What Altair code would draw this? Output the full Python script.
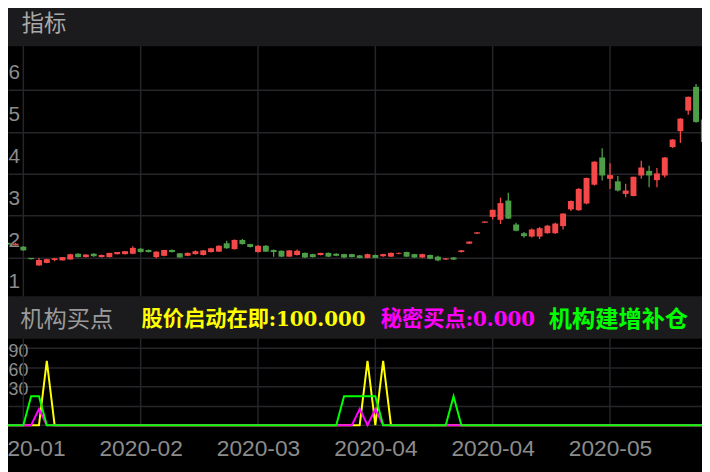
import altair as alt
import pandas as pd

# ---------------- data ----------------
tick_index = [3, 18, 33, 48, 63, 78]
tick_labels = ["2020-01", "2020-02", "2020-03", "2020-04", "2020-04", "2020-05"]
price_ticks = [1, 2, 3, 4, 5, 6]
ind_ticks = [0, 30, 60, 90, 120]

open_ = [2.33, 2.35, 2.30, 2.26, 1.99, 1.81, 1.87, 1.94, 1.93, 1.95,
         2.09, 2.01, 2.09, 2.01, 2.01, 2.08, 2.08, 2.09, 2.21, 2.18,
         2.01, 2.04, 2.18, 2.10, 2.04, 2.08, 2.06, 2.13, 2.14, 2.34,
         2.20, 2.42, 2.32, 2.13, 2.28, 2.18, 2.16, 2.02, 2.06, 2.11,
         2.08, 2.06, 2.11, 2.09, 2.08, 2.08, 2.05, 1.99, 2.06, 2.03,
         2.02, 2.09, 2.13, 2.08, 2.00, 2.06, 2.02, 1.95, 2.00, 2.13,
         2.33, 2.57, 2.83, 2.97, 2.90, 3.36, 2.79, 2.58, 2.50, 2.50,
         2.58, 2.58, 2.75, 3.15, 3.13, 3.29, 3.74, 4.39, 3.88, 3.82,
         3.52, 3.47, 3.96, 4.07, 3.85, 3.96, 4.64, 5.02, 5.51, 6.08,
         5.30]
close = [2.36, 2.31, 2.33, 2.17, 1.96, 1.94, 1.96, 1.98, 2.01, 2.08,
         2.01, 2.07, 2.03, 2.06, 2.11, 2.13, 2.15, 2.23, 2.13, 2.13,
         2.14, 2.18, 2.13, 2.00, 2.11, 2.15, 2.17, 2.22, 2.28, 2.22,
         2.42, 2.32, 2.25, 2.28, 2.14, 2.13, 2.02, 2.17, 2.16, 2.00,
         2.01, 2.11, 2.02, 2.04, 2.00, 2.01, 1.99, 2.08, 1.99, 2.08,
         2.11, 2.11, 2.02, 2.00, 2.08, 1.97, 1.93, 1.98, 1.95, 2.17,
         2.38, 2.60, 2.86, 3.14, 3.30, 2.93, 2.64, 2.51, 2.67, 2.70,
         2.76, 2.81, 3.05, 3.35, 3.64, 3.90, 4.29, 3.96, 3.97, 3.60,
         3.60, 3.93, 4.15, 3.96, 4.01, 4.39, 4.82, 5.32, 5.84, 5.24,
         4.76]
high = [2.37, 2.36, 2.35, 2.27, 1.99, 1.99, 1.97, 1.99, 2.01, 2.09,
        2.10, 2.08, 2.10, 2.07, 2.11, 2.13, 2.15, 2.27, 2.22, 2.19,
        2.15, 2.18, 2.19, 2.11, 2.12, 2.17, 2.18, 2.23, 2.29, 2.40,
        2.43, 2.44, 2.33, 2.29, 2.30, 2.19, 2.17, 2.18, 2.19, 2.12,
        2.09, 2.11, 2.12, 2.10, 2.09, 2.09, 2.06, 2.09, 2.07, 2.09,
        2.12, 2.12, 2.14, 2.09, 2.09, 2.07, 2.04, 1.99, 2.01, 2.18,
        2.38, 2.61, 2.86, 3.14, 3.43, 3.55, 2.83, 2.61, 2.69, 2.73,
        2.78, 2.83, 3.06, 3.36, 3.66, 3.91, 4.30, 4.61, 4.25, 3.95,
        3.76, 3.93, 4.31, 4.19, 4.14, 4.40, 4.83, 5.33, 5.85, 6.15,
        5.32]
low = [2.32, 2.30, 2.29, 2.16, 1.95, 1.80, 1.86, 1.91, 1.93, 1.95,
       2.00, 2.00, 2.02, 2.00, 2.00, 2.07, 2.07, 2.08, 2.12, 2.12,
       1.98, 2.03, 2.12, 2.00, 2.03, 2.07, 2.05, 2.12, 2.13, 2.21,
       2.19, 2.31, 2.24, 2.12, 2.13, 2.02, 2.01, 2.01, 2.05, 1.99,
       2.00, 2.05, 2.01, 2.03, 1.99, 2.00, 1.98, 1.98, 1.98, 2.02,
       2.01, 2.08, 2.01, 1.99, 1.99, 1.96, 1.91, 1.94, 1.94, 2.12,
       2.33, 2.57, 2.83, 2.91, 2.80, 2.92, 2.63, 2.47, 2.48, 2.44,
       2.57, 2.56, 2.67, 3.11, 3.12, 3.27, 3.72, 3.84, 3.64, 3.58,
       3.44, 3.46, 3.88, 3.68, 3.68, 3.91, 4.62, 4.74, 5.41, 5.22,
       4.74]

# indicator series (股价启动在即 / 秘密买点 / 机构建增补仓)
yellow = [0, 0, 0, 0, 0, 0, 100, 0, 0, 0,
          0, 0, 0, 0, 0, 0, 0, 0, 0, 0,
          0, 0, 0, 0, 0, 0, 0, 0, 0, 0,
          0, 0, 0, 0, 0, 0, 0, 0, 0, 0,
          0, 0, 0, 0, 0, 0, 0, 100, 0, 100,
          0, 0, 0, 0, 0, 0, 0, 0, 0, 0,
          0, 0, 0, 0, 0, 0, 0, 0, 0, 0,
          0, 0, 0, 0, 0, 0, 0, 0, 0, 0,
          0, 0, 0, 0, 0, 0, 0, 0, 0, 0,
          0]
magenta = [0, 0, 0, 0, 0, 25, 0, 0, 0, 0,
           0, 0, 0, 0, 0, 0, 0, 0, 0, 0,
           0, 0, 0, 0, 0, 0, 0, 0, 0, 0,
           0, 0, 0, 0, 0, 0, 0, 0, 0, 0,
           0, 0, 0, 0, 0, 0, 25, 0, 25, 0,
           0, 0, 0, 0, 0, 0, 0, 0, 0, 0,
           0, 0, 0, 0, 0, 0, 0, 0, 0, 0,
           0, 0, 0, 0, 0, 0, 0, 0, 0, 0,
           0, 0, 0, 0, 0, 0, 0, 0, 0, 0,
           0]
green = [0, 0, 0, 0, 45, 45, 0, 0, 0, 0,
         0, 0, 0, 0, 0, 0, 0, 0, 0, 0,
         0, 0, 0, 0, 0, 0, 0, 0, 0, 0,
         0, 0, 0, 0, 0, 0, 0, 0, 0, 0,
         0, 0, 0, 0, 45, 45, 45, 45, 45, 0,
         0, 0, 0, 0, 0, 0, 0, 0, 45, 0,
         0, 0, 0, 0, 0, 0, 0, 0, 0, 0,
         0, 0, 0, 0, 0, 0, 0, 0, 0, 0,
         0, 0, 0, 0, 0, 0, 0, 0, 0, 0,
         0]

header_top = "指标"
panel_title = "机构买点"
legend_names = ["股价启动在即", "秘密买点", "机构建增补仓"]
legend_values = [":100.000", ":0.000", ""]
legend_colors = ["#ffff00", "#ff00ff", "#00ff00"]

# ---------------- styling ----------------
W, H = 702, 420
BG = "#000000"
HEAD = "#1b1b1d"
GRID = "#25252a"
LBL = "#8c8c8c"
UP, DOWN = "#f54848", "#4e9e48"
SANS = "Liberation Sans"
CJK = "Noto Sans CJK SC"
SERIF = "DejaVu Serif"

n = len(open_)
idx = list(range(n))
df = pd.DataFrame({"i": idx, "o": open_, "c": close, "h": high, "l": low})
df["dir"] = ["up" if c >= o else "down" for o, c in zip(open_, close)]
ind = pd.DataFrame({"i": idx, "yellow": yellow, "magenta": magenta, "green": green})
ticks_df = pd.DataFrame({"i": tick_index})

lab_js = "[" + ",".join("'%s'" % s for s in tick_labels) + "]"
idx_js = "[" + ",".join(str(v) for v in tick_index) + "]"
x_axis = alt.Axis(values=tick_index, labelExpr=f"{lab_js}[indexof({idx_js}, datum.value)]",
                  grid=False, domain=False, ticks=False,
                  labelFont=SANS, labelFontSize=23, labelColor=LBL, labelPadding=12,
                  title=None, zindex=0, labelOverlap=False)
x_scale = alt.Scale(domain=[1.04, 89.76], nice=False, zero=False, padding=0)
X = alt.X("i:Q", scale=x_scale, axis=x_axis)

# vertical grid lines at the tick positions
vgrid = alt.Chart(ticks_df).mark_rule(color=GRID, strokeWidth=1.5).encode(
    x=X, y=alt.value(0), y2=alt.value(H))

price_scale = alt.Scale(domain=[1, 7.05], range=[292, 36], nice=False, zero=False)
price_axis = alt.Axis(values=price_ticks, orient="left", grid=True, gridColor=GRID, gridWidth=1.5,
                      ticks=False, tickSize=0, domain=False, labelAlign="left", labelPadding=0,
                      labelBaseline="middle", labelOffset=-17.5, labelFont=SANS, labelFontSize=21,
                      labelColor=LBL, title=None, zindex=0, labelOverlap=False)
color = alt.Color("dir:N", scale=alt.Scale(domain=["up", "down"], range=[UP, DOWN]), legend=None)

base = alt.Chart(df)
wick = base.mark_rule(strokeWidth=1.3).encode(
    x=X, y=alt.Y("l:Q", scale=price_scale, axis=price_axis), y2="h:Q", color=color)
body = base.mark_bar(size=6).encode(
    x=X, y=alt.Y("o:Q", scale=price_scale, axis=price_axis), y2="c:Q", color=color)
price = alt.layer(wick, body)

ind_scale = alt.Scale(domain=[0, 134], range=[419.3, 332], nice=False, zero=False)
ind_axis = alt.Axis(values=ind_ticks, orient="left", grid=True, gridColor=GRID, gridWidth=1.5,
                    ticks=False, tickSize=0, domain=False, labelAlign="left", labelPadding=0,
                    labelBaseline="middle", labelOffset=-16, labelFont=SANS, labelFontSize=18,
                    labelColor=LBL, title=None, zindex=0, labelOverlap=False,
                    labelExpr=f"datum.value > {ind_ticks[0]} && datum.value < {ind_ticks[-1]} ? datum.label : ''")
ibase = alt.Chart(ind)
lines = []
for name, col in zip(["yellow", "magenta", "green"], legend_colors):
    lines.append(ibase.mark_line(color=col, strokeWidth=2, interpolate="linear").encode(
        x=X, y=alt.Y(f"{name}:Q", scale=ind_scale, axis=ind_axis)))
indicator = alt.layer(*lines)

one = alt.Data(values=[{"k": 0}])


def band(y0, y1):
    return alt.Chart(one).mark_rect(color=HEAD).encode(
        x=alt.value(0), x2=alt.value(W), y=alt.value(y0), y2=alt.value(y1))


def label(txt, x, y, size, col, font, weight="normal"):
    return alt.Chart(alt.Data(values=[{"t": txt}])).mark_text(
        align="left", baseline="middle", fontSize=size, font=font, fontWeight=weight, color=col
    ).encode(text="t:N", x=alt.value(x), y=alt.value(y))


head1 = alt.layer(band(-10, 36), label(header_top, 14, 13.5, 22.5, "#a9a9a9", CJK))
head2_parts = [band(289, 332), label(panel_title, 12.5, 312.5, 23.5, "#9a9a9a", CJK)]
name_x = [135, 377, 547]
name_size = [21.5, 21.5, 23.5]
val_x = [263.7, 463, None]
for nm, vv, col, nx, ns, vx in zip(legend_names, legend_values, legend_colors, name_x, name_size, val_x):
    head2_parts.append(label(nm, nx, 312.5, ns, col, CJK, "bold"))
    if vv:
        head2_parts.append(label(vv, vx, 312.5, 20, col, SERIF, "bold"))
head2 = alt.layer(*head2_parts)

chart = alt.layer(vgrid, head1, price, head2, indicator).resolve_scale(y="independent").properties(
    width=W, height=H, background=BG,
    autosize=alt.AutoSizeParams(type="none"),
    padding={"left": 0, "top": 0, "right": 0, "bottom": 44},
).configure_view(stroke=None, fill=BG)

chart.save("out.html", embed_options={"renderer": "svg", "actions": False})
